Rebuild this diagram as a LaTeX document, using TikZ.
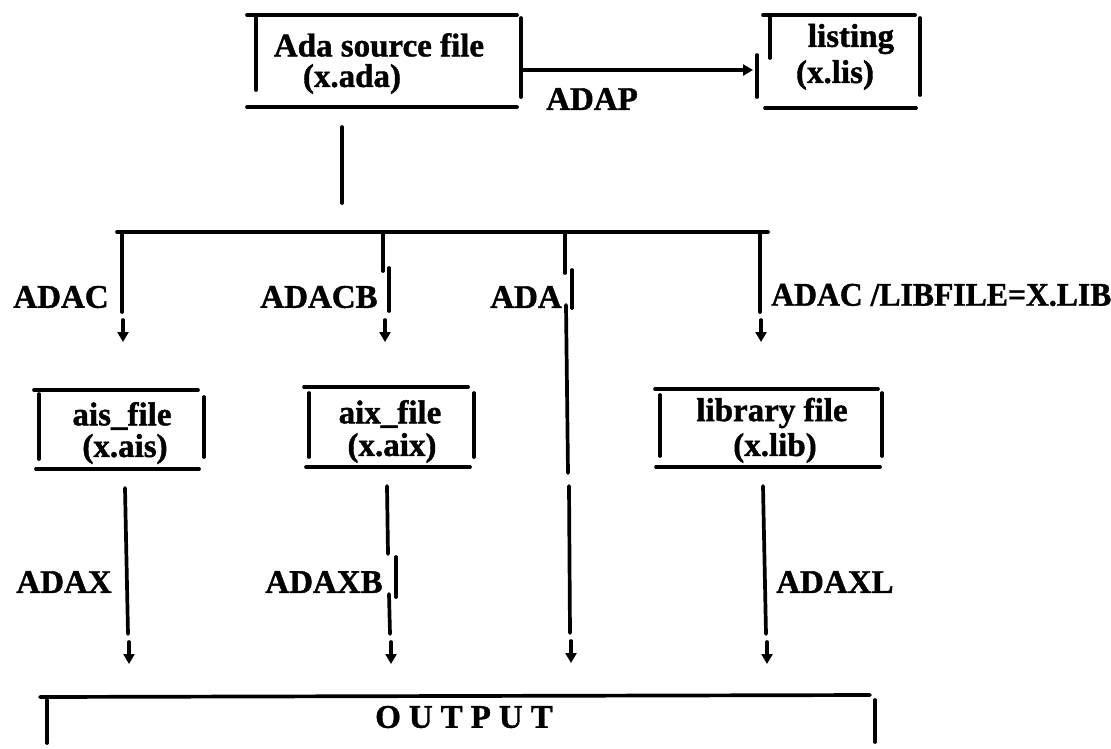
\documentclass[tikz,border=0pt]{standalone}
\usepackage{fontspec}
\setmainfont{Liberation Serif}[BoldFeatures={FakeBold=1.2}]
\usetikzlibrary{arrows.meta}
\begin{document}
\begin{tikzpicture}[x=1pt,y=-1pt,
  ln/.style={line width=3.7pt, line cap=round},
  tip/.style={ln, -{Triangle[length=10pt,width=11pt]}},
  txt/.style={inner sep=0pt, font=\fontsize{33}{36}\selectfont\bfseries},
]
\useasboundingbox (0,0) rectangle (1111,748);

% ---- Ada source box
\node[txt] (ada1) at (379,45) {Ada source file};
\node[txt] (ada2) at (352,79) {(x.ada)};
\draw[ln] (247,15) -- (517,15);
\draw[ln] (256,18) -- (256,90);
\draw[ln] (521,18) -- (521,97);
\draw[ln] (247,107) -- (517,107);

% ---- listing box
\node[txt] (lis1) at (851,39) {listing};
\node[txt] (lis2) at (835,75) {(x.lis)};
\draw[ln] (763,15) -- (915,15);
\draw[ln] (770,15) -- (770,58);
\draw[ln] (757,55) -- (757,97);
\draw[ln] (920,18) -- (920,95);
\draw[ln] (765,108) -- (916,108);

% ---- ADAP connector
\coordinate (adapS) at (521,70);
\coordinate (adapE) at (753,70);
\draw[tip] (adapS) -- (adapE);
\node[txt] (adap) at (592,99) {ADAP};

% ---- trunk and bus
\coordinate (trT) at (342,127);
\coordinate (trB) at (342,203);
\draw[ln] (trT) -- (trB);
\coordinate (busL) at (117,232);
\coordinate (busR) at (768,232);
\draw[ln] (busL) -- (busR);

% ---- branch ADAC
\coordinate (b1a) at (122,232);
\coordinate (b1b) at (122,312);
\draw[ln] (b1a) -- (b1b);
\coordinate (a1s) at (123,320);
\coordinate (a1e) at (123,342);
\draw[tip] (a1s) -- (a1e);
\node[txt] (lADAC) at (61,297) {ADAC};

% ---- branch ADACB
\coordinate (b2a) at (383,232);
\coordinate (b2b) at (383,271);
\coordinate (b2c) at (389,268);
\coordinate (b2d) at (389,311);
\draw[ln] (b2a) -- (b2b);
\draw[ln] (b2c) -- (b2d);
\coordinate (a2s) at (385,320);
\coordinate (a2e) at (385,342);
\draw[tip] (a2s) -- (a2e);
\node[txt] (lADACB) at (319,297) {ADACB};

% ---- branch ADA
\coordinate (b3a) at (565,232);
\coordinate (b3b) at (565,273);
\coordinate (b3c) at (572,270);
\coordinate (b3d) at (572,308);
\coordinate (b3e) at (566,305);
\coordinate (b3f) at (568,473);
\coordinate (b3g) at (569,486);
\coordinate (b3h) at (570,633);
\draw[ln] (b3a) -- (b3b);
\draw[ln] (b3c) -- (b3d);
\draw[ln] (b3e) -- (b3f);
\draw[ln] (b3g) -- (b3h);
\coordinate (a3s) at (571,641);
\coordinate (a3e) at (571,663);
\draw[tip] (a3s) -- (a3e);
\node[txt] (lADA) at (526,297) {ADA};

% ---- branch LIBFILE
\coordinate (b4a) at (760,232);
\coordinate (b4b) at (760,312);
\draw[ln] (b4a) -- (b4b);
\coordinate (a4s) at (761,320);
\coordinate (a4e) at (761,342);
\draw[tip] (a4s) -- (a4e);
\node[txt,anchor=west] (lLIB) at (771,295) {\scalebox{0.96}[1]{ADAC /LIBFILE=X.LIB}};

% ---- ais box
\node[txt] (ais1) at (122,416) {ais\_file};
\node[txt] (ais2) at (125,449) {(x.ais)};
\draw[ln] (34,390) -- (198,390);
\draw[ln] (39,394) -- (39,459);
\draw[ln] (204,397) -- (204,457);
\draw[ln] (36,469) -- (199,469);

% ---- aix box
\node[txt] (aix1) at (390,414) {aix\_file};
\node[txt] (aix2) at (392,448) {(x.aix)};
\draw[ln] (304,387) -- (468,387);
\draw[ln] (309,393) -- (309,457);
\draw[ln] (474,393) -- (474,457);
\draw[ln] (306,467) -- (470,467);

% ---- library box
\node[txt] (lib1) at (772,413) {library file};
\node[txt] (lib2) at (775,448) {(x.lib)};
\draw[ln] (655,389) -- (878,389);
\draw[ln] (660,395) -- (660,456);
\draw[ln] (882,393) -- (882,456);
\draw[ln] (656,467) -- (880,467);

% ---- ADAX
\coordinate (c1a) at (125,488);
\coordinate (c1b) at (128,634);
\draw[ln] (c1a) -- (c1b);
\coordinate (d1s) at (129,642);
\coordinate (d1e) at (129,664);
\draw[tip] (d1s) -- (d1e);
\node[txt] (lADAX) at (64,582) {ADAX};

% ---- ADAXB
\coordinate (c2a) at (387,486);
\coordinate (c2b) at (388,554);
\coordinate (c2c) at (396,557);
\coordinate (c2d) at (396,597);
\coordinate (c2e) at (389,594);
\coordinate (c2f) at (390,634);
\draw[ln] (c2a) -- (c2b);
\draw[ln] (c2c) -- (c2d);
\draw[ln] (c2e) -- (c2f);
\coordinate (d2s) at (391,642);
\coordinate (d2e) at (391,664);
\draw[tip] (d2s) -- (d2e);
\node[txt] (lADAXB) at (324,582) {ADAXB};

% ---- ADAXL
\coordinate (c3a) at (763,486);
\coordinate (c3b) at (766,634);
\draw[ln] (c3a) -- (c3b);
\coordinate (d3s) at (767,642);
\coordinate (d3e) at (767,664);
\draw[tip] (d3s) -- (d3e);
\node[txt,anchor=west] (lADAXL) at (776,582) {ADAXL};

% ---- OUTPUT box
\draw[ln] (40,697) -- (870,695);
\draw[ln] (47,700) -- (47,743);
\draw[ln] (875,700) -- (875,742);
\node[txt] (out) at (464,717) {O\hspace{8pt}U\hspace{8pt}T\hspace{8pt}P\hspace{8pt}U\hspace{8pt}T};
\end{tikzpicture}
\end{document}
